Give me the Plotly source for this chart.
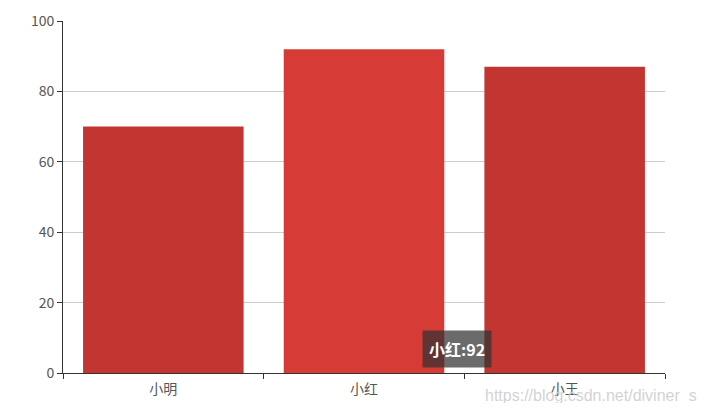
import plotly.graph_objects as go

# 数据
names = ["小明", "小红", "小王"]
scores = [70, 92, 87]
bar_colors = ["#c23531", "#d63b36", "#c23531"]
y_ticks = [0, 20, 40, 60, 80, 100]

font_family = "Noto Sans CJK SC, Microsoft YaHei, sans-serif"

fig = go.Figure()
fig.add_trace(
    go.Bar(
        x=names,
        y=scores,
        marker_color=bar_colors,
        marker_line_width=0,
        hoverinfo="skip",
    )
)

# tooltip (悬停在小红上)
fig.add_annotation(
    x=0.654, y=0.068, xref="paper", yref="paper",
    xanchor="center", yanchor="middle",
    text="<b>小红:92</b>",
    showarrow=False,
    font=dict(family=font_family, size=16, color="#ffffff"),
    bgcolor="rgba(50,50,50,0.72)",
    borderpad=6,
)

# 水印
fig.add_annotation(
    x=1.057, y=-0.066, xref="paper", yref="paper",
    xanchor="right", yanchor="middle",
    text="https://blog.csdn.net/diviner_s",
    showarrow=False,
    font=dict(family="Arial, Liberation Sans, sans-serif", size=16, color="rgba(205,205,205,0.9)"),
)

# 页面 body 默认有 8px 边距, 这里把尺寸缩一点来抵消
fig.update_layout(
    width=690,
    height=395,
    margin=dict(l=55, r=33, t=13, b=30, autoexpand=False),
    paper_bgcolor="white",
    plot_bgcolor="white",
    showlegend=False,
    bargap=0.2,
    font=dict(family=font_family, size=14, color="#555"),
    xaxis=dict(
        automargin=False,
        tickson="boundaries",
        ticks="outside",
        ticklen=5,
        tickcolor="#333",
        ticklabelstandoff=3,
        showline=True,
        linecolor="#333",
        linewidth=1,
        showgrid=False,
        tickfont=dict(size=14, color="#555"),
    ),
    yaxis=dict(
        automargin=False,
        range=[0, 100],
        tickvals=y_ticks,
        ticks="outside",
        ticklen=5,
        tickcolor="#333",
        showline=True,
        linecolor="#333",
        linewidth=1,
        showgrid=True,
        gridcolor="#ccc",
        zeroline=False,
        tickfont=dict(size=14, color="#555"),
    ),
)

fig.write_html("out.html")
